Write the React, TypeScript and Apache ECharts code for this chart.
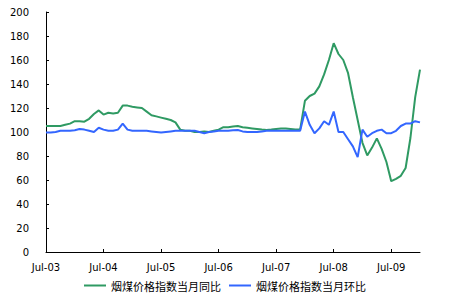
import React, { useEffect, useRef } from "react";
import * as echarts from "echarts";

const monthNames = ["Jan", "Feb", "Mar", "Apr", "May", "Jun", "Jul", "Aug", "Sep", "Oct", "Nov", "Dec"];
const startYear = 2003;
const startMonth = 6; // Jul
const monthCount = 79; // Jul-03 .. Jan-10

const categories: string[] = [];
for (let i = 0; i < monthCount; i++) {
  const m = (startMonth + i) % 12;
  const y = startYear + Math.floor((startMonth + i) / 12);
  categories.push(`${monthNames[m]}-${String(y % 100).padStart(2, "0")}`);
}

const seriesNames = ["烟煤价格指数当月同比", "烟煤价格指数当月环比"];

const yoyValues = [
  105, 105, 105, 105, 106, 107, 109, 109, 108.6, 111, 115, 118,
  114.5, 116, 115.5, 116, 122, 122, 121, 120.5, 120, 117, 114, 113,
  112, 111, 110, 108, 102, 101, 101, 100, 100, 100.5, 100, 101,
  102, 104, 104, 104.5, 105, 104, 103.5, 103, 102.5, 102, 101.7, 102,
  102.5, 103, 103, 102.5, 102, 102, 126, 130, 132, 138, 148, 160,
  174, 165, 160, 149, 129, 110, 91, 80.5, 87, 94.7, 86, 75,
  59, 61, 63.5, 70, 95, 129, 152,
];

const momValues = [
  99.5, 99.5, 100, 101, 101, 101, 101.5, 102.5, 102, 101, 100, 103.5,
  102, 101, 101, 102, 107, 102, 101, 101, 101, 101, 100.5, 100,
  99.5, 100, 100.5, 101, 101, 101, 101, 101, 100, 99, 100, 100.5,
  101, 101, 101, 101.5, 101.7, 100.5, 100, 100, 100, 100.5, 101, 101,
  101, 101, 101, 101, 101, 101, 117, 106, 99, 103, 109, 106,
  117, 100, 100, 94, 88, 79, 102, 96, 99, 101, 102, 99,
  99, 101, 105, 107, 107, 109, 108,
];

const colors = ["#2f9a63", "#3366ff"];

export default function App() {
  const ref = useRef<HTMLDivElement>(null);
  useEffect(() => {
    if (!ref.current) return;
    const chart = echarts.init(ref.current, undefined, { renderer: "svg" });
    chart.setOption({
      animation: false,
      backgroundColor: "#ffffff",
      color: colors,
      grid: { left: 46, right: 30, top: 12, bottom: 48, containLabel: false },
      legend: {
        bottom: 4,
        left: "center",
        icon: "rect",
        itemWidth: 22,
        itemHeight: 2,
        itemGap: 8,
        textStyle: { fontSize: 11, color: "#000", fontFamily: "Noto Sans CJK SC" },
        data: seriesNames,
      },
      xAxis: {
        type: "category",
        data: categories,
        boundaryGap: false,
        axisLine: { lineStyle: { color: "#000", width: 1 } },
        axisTick: { inside: true, length: 3, interval: 11, lineStyle: { color: "#000" } },
        axisLabel: { interval: 11, fontSize: 10, color: "#000", margin: 10, fontFamily: "DejaVu Sans" },
        splitLine: { show: false },
      },
      yAxis: {
        type: "value",
        min: 0,
        max: 200,
        interval: 20,
        axisLine: { show: true, lineStyle: { color: "#000", width: 1 } },
        axisTick: { show: true, inside: true, length: 3, lineStyle: { color: "#000" } },
        axisLabel: { fontSize: 10, color: "#000", margin: 17, fontFamily: "DejaVu Sans" },
        splitLine: { show: false },
      },
      series: [
        {
          name: seriesNames[0],
          type: "line",
          data: yoyValues,
          showSymbol: false,
          symbol: "none",
          lineStyle: { width: 2, color: colors[0] },
        },
        {
          name: seriesNames[1],
          type: "line",
          data: momValues,
          showSymbol: false,
          symbol: "none",
          lineStyle: { width: 2, color: colors[1] },
        },
      ],
    });
    return () => chart.dispose();
  }, []);
  return <div ref={ref} style={{ width: 450, height: 300, position: "absolute", left: 0, top: 0 }} />;
}
